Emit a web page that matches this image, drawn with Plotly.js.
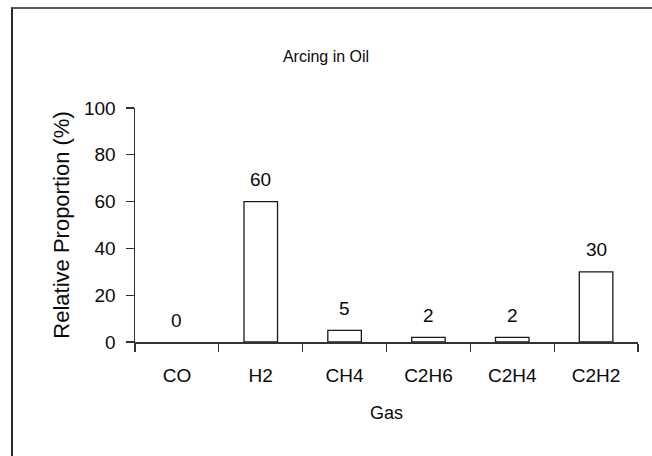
<!DOCTYPE html>
<html>
<head>
<meta charset="utf-8">
<script src="https://cdn.plot.ly/plotly-3.0.1.min.js"></script>
<style>
  html, body { margin: 0; padding: 0; background: #fff; }
  #wrap { position: relative; width: 652px; height: 456px; overflow: hidden; }
  #chart { position: absolute; left: 0; top: 0; width: 652px; height: 456px; }
  #frame { position: absolute; left: 11px; top: 7px; width: 660px; height: 470px;
           border-top: 2px solid #5a5a5a; border-left: 2px solid #2a2a2a; pointer-events: none; }
</style>
</head>
<body>
<div id="wrap">
  <div id="chart"></div>
  <div id="frame"></div>
</div>
<script>
const gases = ["CO", "H2", "CH4", "C2H6", "C2H4", "C2H2"];
const proportions = [0, 60, 5, 2, 2, 30];
const valueLabels = ["0", "60", "5", "2", "2", "30"];
const yTicks = [0, 20, 40, 60, 80, 100];

const FONT = "Liberation Sans, Arial, sans-serif";

const trace = {
  type: "bar",
  x: gases,
  y: proportions,
  marker: { color: "#ffffff",
            line: { color: "#1a1a1a", width: proportions.map(v => v > 0 ? 1.3 : 0) } },
  hoverinfo: "skip"
};

const annotations = gases.map((g, i) => ({
  x: g, y: proportions[i], xref: "x", yref: "y",
  text: valueLabels[i], showarrow: false,
  yanchor: "middle", yshift: 22,
  font: { family: FONT, size: 19, color: "#0a0a0a" }
}));

const layout = {
  width: 652, height: 456,
  margin: { l: 135, r: 14, t: 108, b: 114 },
  paper_bgcolor: "#ffffff", plot_bgcolor: "#ffffff",
  showlegend: false,
  bargap: 0.6,
  title: { text: "Arcing in Oil", x: 0.5, xanchor: "center", y: 0.877, yanchor: "middle",
           font: { family: FONT, size: 16, color: "#0a0a0a" } },
  xaxis: {
    type: "category",
    showline: true, linecolor: "#333", linewidth: 1.5,
    ticks: "outside", tickson: "boundaries", ticklen: 8, tickwidth: 1.3, tickcolor: "#333",
    showgrid: false, zeroline: false,
    ticklabelstandoff: 16,
    tickfont: { family: FONT, size: 19, color: "#0a0a0a" },
    title: { text: "Gas", standoff: 21, font: { family: FONT, size: 18, color: "#0a0a0a" } },
    automargin: false
  },
  yaxis: {
    range: [0, 100], tickvals: yTicks,
    showline: true, linecolor: "#333", linewidth: 1.5,
    ticks: "outside", ticklen: 8, tickwidth: 1.3, tickcolor: "#333",
    showgrid: false, zeroline: false,
    ticklabelstandoff: 6,
    tickfont: { family: FONT, size: 19, color: "#0a0a0a" },
    title: { text: "Relative Proportion (%)", standoff: 8, font: { family: FONT, size: 22, color: "#0a0a0a" } },
    automargin: false
  },
  annotations: annotations
};

Plotly.newPlot("chart", [trace], layout, { displayModeBar: false, staticPlot: true });
</script>
</body>
</html>
